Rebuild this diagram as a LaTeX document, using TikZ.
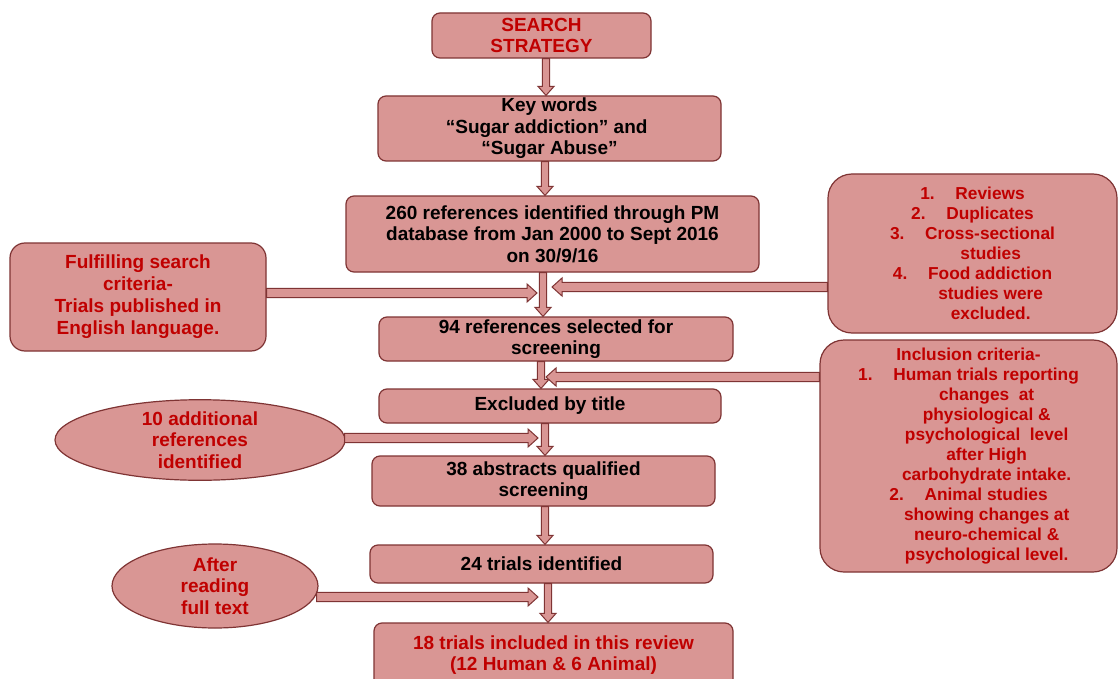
\documentclass[tikz,border=0pt]{standalone}
\usepackage{fontspec}
\setmainfont{Liberation Sans}
\usetikzlibrary{calc,shapes.geometric}
\definecolor{pinkf}{HTML}{D99694}
\definecolor{bord}{HTML}{7F3434}
\definecolor{redt}{HTML}{C00000}
\newcommand\blkarrow[5]{%
  \draw[barrow] let \p1=#1, \p2=#2,
    \n1={veclen(\x2-\x1,\y2-\y1)}, \n2={(\x2-\x1)/\n1}, \n3={(\y2-\y1)/\n1} in
    ({\x1-(\n3)*#3},{\y1+(\n2)*#3}) --
    ({\x2-(\n2)*#5-(\n3)*#3},{\y2-(\n3)*#5+(\n2)*#3}) --
    ({\x2-(\n2)*#5-(\n3)*#4},{\y2-(\n3)*#5+(\n2)*#4}) --
    (\p2) --
    ({\x2-(\n2)*#5+(\n3)*#4},{\y2-(\n3)*#5-(\n2)*#4}) --
    ({\x2-(\n2)*#5+(\n3)*#3},{\y2-(\n3)*#5-(\n2)*#3}) --
    ({\x1+(\n3)*#3},{\y1-(\n2)*#3}) -- cycle;}
\newcommand\varr[2]{\blkarrow{#1}{#2}{3.6pt}{8pt}{9pt}}
\newcommand\harr[2]{\blkarrow{#1}{#2}{4.6pt}{9pt}{10pt}}
\tikzset{
  base/.style={draw=bord, fill=pinkf, line width=1.2pt, align=center, inner sep=0pt,
    font=\fontsize{19}{21.5}\selectfont\bfseries},
  box/.style={base, rectangle, rounded corners=8pt},
  sidebox/.style={base, rectangle, rounded corners=24pt, text=redt,
    font=\fontsize{17.3}{20}\selectfont\bfseries},
  oval/.style={base, ellipse, text=redt},
  barrow/.style={draw=bord, fill=pinkf, line width=1pt, line join=miter}
}
\begin{document}
\begin{tikzpicture}[x=1pt,y=-1pt]
\useasboundingbox (0,0) rectangle (1118,679);
\fill[white] (0,0) rectangle (1118,679);
% main column
\node[box, text=redt, minimum width=219pt, minimum height=45pt] (search) at (541.5,35.5) {SEARCH\\STRATEGY};
\node[box, minimum width=343pt, minimum height=65pt] (key) at (549.5,128.5) {Key words\\ \hspace*{-0.3em}“Sugar addiction” and\\“Sugar Abuse”};
\node[box, minimum width=413pt, minimum height=76pt] (n260) at (552.5,234) {260 references identified through PM\\database from Jan 2000 to Sept 2016\\on 30/9/16};
\node[box, minimum width=354pt, minimum height=44pt] (n94) at (556,339) {94 references selected for\\screening};
\node[box, minimum width=342pt, minimum height=34pt] (excl) at (550,406) {Excluded by title};
\node[box, minimum width=343pt, minimum height=50pt] (n38) at (543.5,481) {38 abstracts qualified\\screening};
\node[box, minimum width=343pt, minimum height=38pt] (n24) at (541.5,564) {24 trials identified};
\node[box, text=redt, minimum width=359pt, minimum height=64pt] (n18) at (553.5,655) {18 trials included in this review\\(12 Human \& 6 Animal)};
% side nodes
\node[base, rectangle, rounded corners=15pt, text=redt, minimum width=256pt, minimum height=108pt, font=\fontsize{19}{22}\selectfont\bfseries] (left) at (138,297) {Fulfilling search\\criteria-\\Trials published in\\English language.};
\node[sidebox, minimum width=289pt, minimum height=159pt] (right1) at (972.5,253.5) {1.\hspace{1.2em}Reviews\\2.\hspace{1.2em}Duplicates\\3.\hspace{1.2em}Cross-sectional\\\hspace*{2.1em}studies\\4.\hspace{1.2em}Food addiction\\\hspace*{2.1em}studies were\\\hspace*{2.1em}excluded.};
\node[sidebox, minimum width=297pt, minimum height=232pt] (right2) at (968.5,456) {Inclusion criteria-\\1.\hspace{1.2em}Human trials reporting\\\hspace*{2.1em}changes\ \ at\\\hspace*{2.1em}physiological \&\\\hspace*{2.1em}psychological\ \ level\\\hspace*{2.1em}after High\\\hspace*{2.1em}carbohydrate intake.\\2.\hspace{1.2em}Animal studies\\\hspace*{2.1em}showing changes at\\\hspace*{2.1em}neuro-chemical \&\\\hspace*{2.1em}psychological level.};
\node[oval, minimum width=290pt, minimum height=80pt] (ell1) at (200,440) {10 additional\\references\\identified};
\node[oval, minimum width=206pt, minimum height=84pt] (ell2) at (215,586) {After\\reading\\full text};
% free ends of side arrows
\coordinate (t1) at (537,293);
\coordinate (t2) at (552,287);
\coordinate (t3) at (546,377);
\coordinate (t4) at (538,438);
\coordinate (t5) at (538,597);
% vertical arrows
\varr{([xshift=4.5pt]search.south)}{([xshift=4.5pt]search.south |- key.north)}
\varr{([xshift=-4.5pt]key.south)}{([xshift=-4.5pt]key.south |- n260.north)}
\varr{([xshift=-9.5pt]n260.south)}{([xshift=-9.5pt]n260.south |- n94.north)}
\varr{([xshift=-15pt]n94.south)}{([xshift=-15pt]n94.south |- excl.north)}
\varr{([xshift=-5pt]excl.south)}{([xshift=-5pt]excl.south |- n38.north)}
\varr{([xshift=1.5pt]n38.south)}{([xshift=1.5pt]n38.south |- n24.north)}
\varr{([xshift=6.5pt]n24.south)}{([xshift=6.5pt]n24.south |- n18.north)}
% horizontal arrows
\harr{(left.east |- t1)}{(t1)}
\harr{(right1.west |- t2)}{(t2)}
\harr{(right2.west |- t3)}{(t3)}
\harr{([xshift=-1pt]ell1.east |- t4)}{(t4)}
\harr{([xshift=-2pt]ell2.east |- t5)}{(t5)}
\end{tikzpicture}
\end{document}
